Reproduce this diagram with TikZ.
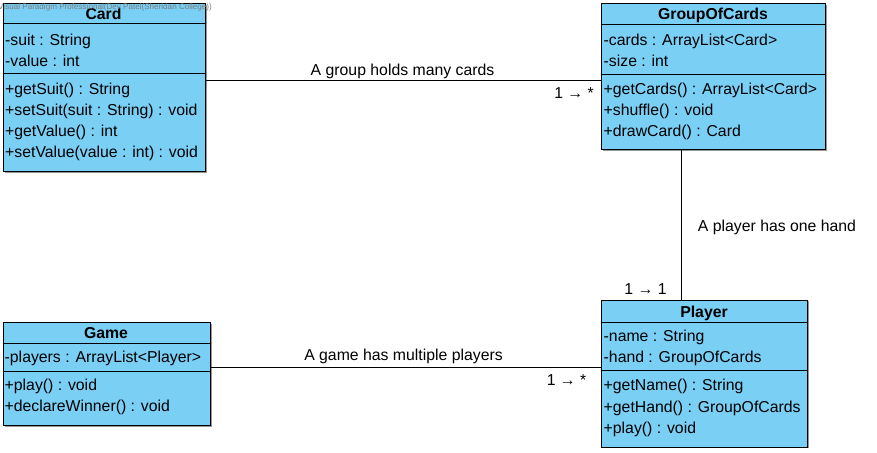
\documentclass[tikz,border=0pt]{standalone}
\usepackage{fontspec}
\setmainfont{Liberation Sans}
\definecolor{boxblue}{RGB}{122,207,245}
\definecolor{shadowgray}{RGB}{150,150,150}
\definecolor{wmgray}{RGB}{125,125,125}
\begin{document}
\begin{tikzpicture}[x=1pt,y=-1pt,
  classbox/.style={draw=black, fill=boxblue, line width=1pt, inner sep=0pt, anchor=north west},
  shadowbox/.style={fill=shadowgray, draw=none, inner sep=0pt, anchor=north west},
  member/.style={anchor=base west, inner sep=0pt, font=\fontsize{15.8}{18}\selectfont},
  title/.style={anchor=base, inner sep=0pt, font=\fontsize{15.8}{18}\selectfont\bfseries},
  lbl/.style={anchor=base, inner sep=0pt, font=\fontsize{15.8}{18}\selectfont},
  conn/.style={draw=black, line width=1pt},
  divider/.style={draw=black, line width=1pt}]
\useasboundingbox (0,0) rectangle (877,452);
% shadows
\node[shadowbox, minimum width=202pt, minimum height=168pt] (cards) at (4.5,4.5) {};
\node[shadowbox, minimum width=224pt, minimum height=146pt] (gocs) at (602.5,4.5) {};
\node[shadowbox, minimum width=207pt, minimum height=103pt] (games) at (4.5,323.5) {};
\node[shadowbox, minimum width=206pt, minimum height=147pt] (players) at (602.5,301) {};
% boxes
\node[classbox, minimum width=202pt, minimum height=168pt] (card) at (2.5,3) {};
\node[classbox, minimum width=224pt, minimum height=146pt] (goc) at (601,3) {};
\node[classbox, minimum width=207pt, minimum height=103pt] (game) at (2.5,322) {};
\node[classbox, minimum width=206pt, minimum height=147pt] (player) at (601,299.5) {};
% dividers
\draw[divider] (card.west |- 0,24) -- (card.east |- 0,24);
\draw[divider] (card.west |- 0,73.5) -- (card.east |- 0,73.5);
\draw[divider] (goc.west |- 0,24.5) -- (goc.east |- 0,24.5);
\draw[divider] (goc.west |- 0,74) -- (goc.east |- 0,74);
\draw[divider] (game.west |- 0,343) -- (game.east |- 0,343);
\draw[divider] (game.west |- 0,371) -- (game.east |- 0,371);
\draw[divider] (player.west |- 0,322.5) -- (player.east |- 0,322.5);
\draw[divider] (player.west |- 0,370.5) -- (player.east |- 0,370.5);
% Card
\node[title] (cardT) at (103.5,20) {Card};
\node[member] (c1) at (5,45.5) {-suit : String};
\node[member] (c2) at (5,66.5) {-value : int};
\node[member] (c3) at (5,94.5) {+getSuit() : String};
\node[member] (c4) at (5,115.5) {+setSuit(suit : String) : void};
\node[member] (c5) at (5,136.5) {+getValue() : int};
\node[member] (c6) at (5,157.5) {+setValue(value : int) : void};
% GroupOfCards
\node[title] (gocT) at (713,20) {GroupOfCards};
\node[member] (g1) at (603.5,45.5) {-cards : ArrayList<Card>};
\node[member] (g2) at (603.5,66.5) {-size : int};
\node[member] (g3) at (603.5,94.5) {+getCards() : ArrayList<Card>};
\node[member] (g4) at (603.5,115.5) {+shuffle() : void};
\node[member] (g5) at (603.5,136.5) {+drawCard() : Card};
% Game
\node[title] (gameT) at (106,338) {Game};
\node[member] (m1) at (4.5,362.5) {-players : ArrayList<Player>};
\node[member] (m2) at (4.5,390) {+play() : void};
\node[member] (m3) at (4.5,411) {+declareWinner() : void};
% Player
\node[title] (playerT) at (704,317) {Player};
\node[member] (p1) at (603.5,341) {-name : String};
\node[member] (p2) at (603.5,362.5) {-hand : GroupOfCards};
\node[member] (p3) at (603.5,390.5) {+getName() : String};
\node[member] (p4) at (603.5,412) {+getHand() : GroupOfCards};
\node[member] (p5) at (603.5,433) {+play() : void};
% connectors
\draw[conn] (card.east |- 0,80) -- (goc.west |- 0,80);
\draw[conn] (goc.south -| 681,0) -- (player.north -| 681,0);
\draw[conn] (game.east |- 0,367) -- (player.west |- 0,367);
% labels
\node[lbl] (l1) at (402.5,75.5) {A group holds many cards};
\node[lbl] (l1m) at (574,98.5) {1 → *};
\node[lbl] (l2) at (777,231.5) {A player has one hand};
\node[lbl] (l2m) at (645.5,294.5) {1 → 1};
\node[lbl] (l3) at (403.5,360.5) {A game has multiple players};
\node[lbl] (l3m) at (566.5,385.5) {1 → *};
% watermark
\node[anchor=base west, inner sep=0pt, text=wmgray, font=\fontsize{8.1}{9}\selectfont] (wm) at (-2,10) {Visual Paradigm Professional(Dev Patel(Sheridan College))};
\end{tikzpicture}
\end{document}
